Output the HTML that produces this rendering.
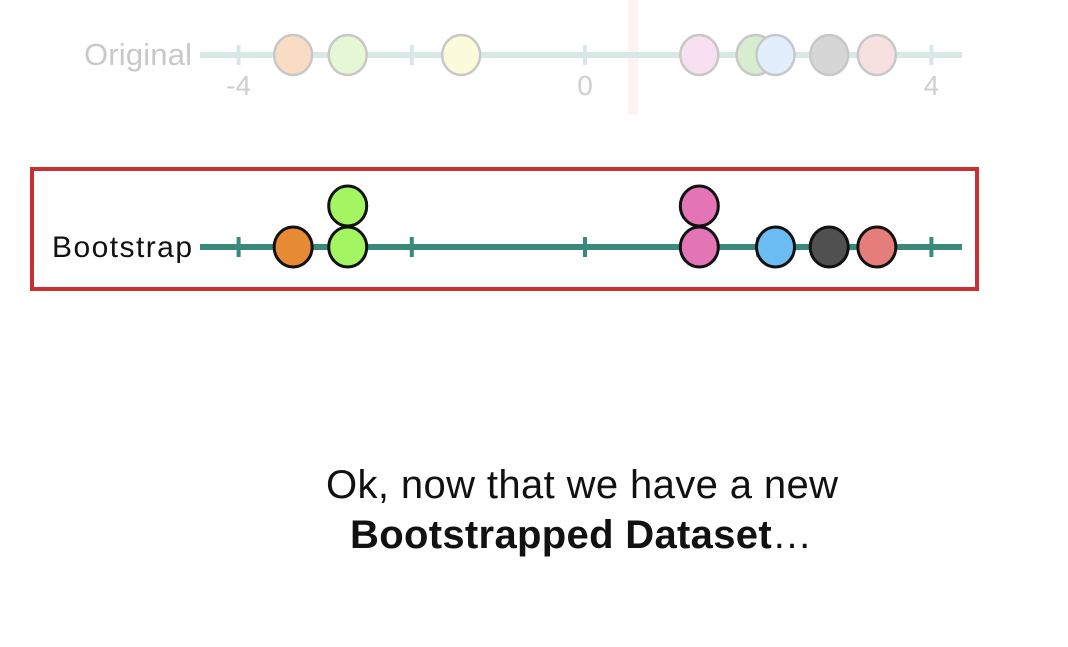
<!DOCTYPE html>
<html><head><meta charset="utf-8"><style>
body{margin:0;background:#fff;width:1068px;height:642px;overflow:hidden;font-family:"Liberation Sans",sans-serif}
</style></head><body>
<svg width="1068" height="642" id="chart">
<rect x="628" y="0" width="10" height="115" fill="#fdf3f3"/>
<rect x="32" y="169" width="945" height="120" fill="none" stroke="#c8302f" stroke-width="4"/>
<text x="582" y="498" font-size="40" text-anchor="middle" fill="#111" textLength="512">Ok, now that we have a new</text>
<text x="581" y="548" font-size="40" text-anchor="middle" fill="#111" textLength="462"><tspan font-weight="bold">Bootstrapped Dataset</tspan>…</text>
</svg>
<script>
const ticks=[-4,-2,0,2,4];
const tickLabels=["-4","","0","","4"];
const originalValues=[-3.37,-2.74,-1.43,1.32,1.97,2.2,2.82,3.37];
const originalColors=["#f9dcc4","#e6f7d6","#fbfbdc","#f7e0ef","#d8ecd0","#e0effb","#d6d6d6","#f7e0e0"];
const bootValues=[-3.37,-2.74,-2.74,1.32,1.32,2.2,2.82,3.37];
const bootColors=["#e68a33","#a3f562","#a3f562","#e375b6","#e375b6","#6bbcf2","#505050","#e57e7b"];
const svg=document.getElementById('chart');
const NS='http://www.w3.org/2000/svg';
const X=v=>585+v*86.6;
function mk(t,a){const e=document.createElementNS(NS,t);for(const k in a)e.setAttribute(k,a[k]);svg.appendChild(e);return e;}
function axis(y,col,label,lcol,name,fs,tl){
  let l=mk('line',{x1:200,x2:962,y1:y,y2:y,stroke:col,'stroke-width':6});
  
  
  ticks.forEach((t,i)=>{
    let k=mk('line',{x1:X(t),x2:X(t),y1:y-10,y2:y+10,stroke:col,'stroke-width':4});
    
    
  });
  let tx=mk('text',{x:192,y:y+10,'font-size':fs,'text-anchor':'end',fill:lcol,textLength:tl});
  tx.textContent=label;
  
  
}
axis(55,'#d8e8e4','Original','#c8c8c8','original',31,108);
ticks.forEach((t,i)=>{if(!tickLabels[i])return;
  let e=mk('text',{x:X(t),y:95,'font-size':28,'text-anchor':'middle',fill:'#cfcfcf'});
  e.textContent=tickLabels[i];
  
  
});
originalValues.forEach((v,i)=>{
  let c=mk('ellipse',{cx:X(v),cy:55,rx:19,ry:20,fill:originalColors[i],stroke:'#c8c8c8','stroke-width':2.5});
  
  
});
axis(247,'#3a8a7c','Bootstrap','#111','bootstrap',30,140);
const seen={};
bootValues.forEach((v,i)=>{
  const n=seen[v]||0;seen[v]=n+1;
  let c=mk('ellipse',{cx:X(v),cy:247-n*41,rx:19,ry:20,fill:bootColors[i],stroke:'#111','stroke-width':3});
  
  
});
</script>
</body></html>
